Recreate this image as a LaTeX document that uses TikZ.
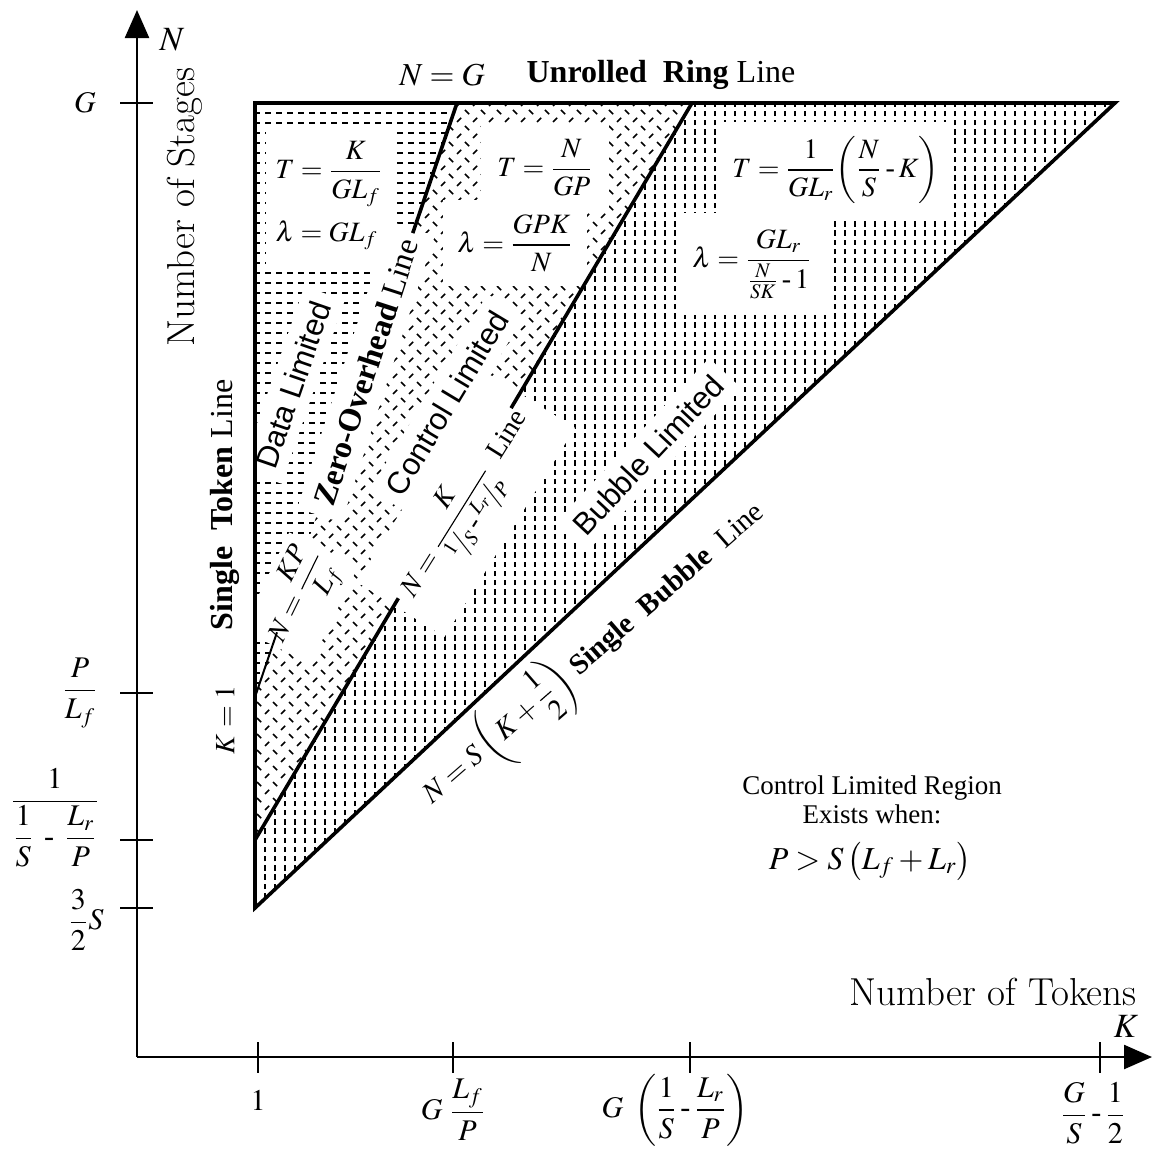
\documentclass[tikz,border=0pt]{standalone}
\usepackage{mathptmx}
\usepackage{fontspec}
\setmainfont{Liberation Serif}
\newfontfamily\hlv{Liberation Sans}
\usepackage{amsmath}
\usetikzlibrary{arrows.meta, patterns, calc}

% fill patterns of the three regions
\pgfdeclarepatternformonly{hdashes}{\pgfqpoint{-1pt}{-1pt}}{\pgfqpoint{6pt}{6pt}}{\pgfqpoint{5.5pt}{5pt}}{%
  \pgfsetlinewidth{0.9pt}%
  \pgfpathmoveto{\pgfqpoint{0.5pt}{2.5pt}}\pgfpathlineto{\pgfqpoint{3.6pt}{2.5pt}}%
  \pgfusepath{stroke}}
\pgfdeclarepatternformonly{vdashes}{\pgfqpoint{-1pt}{-1pt}}{\pgfqpoint{6pt}{6pt}}{\pgfqpoint{5pt}{4.6pt}}{%
  \pgfsetlinewidth{0.9pt}%
  \pgfpathmoveto{\pgfqpoint{2.5pt}{0.7pt}}\pgfpathlineto{\pgfqpoint{2.5pt}{3.4pt}}%
  \pgfusepath{stroke}}
\pgfdeclarepatternformonly{ticks}{\pgfqpoint{-1pt}{-1pt}}{\pgfqpoint{9pt}{9pt}}{\pgfqpoint{8pt}{8pt}}{%
  \pgfsetlinewidth{0.75pt}%
  \pgfpathmoveto{\pgfqpoint{0.5pt}{7pt}}\pgfpathlineto{\pgfqpoint{2.6pt}{4.9pt}}%
  \pgfpathmoveto{\pgfqpoint{4.5pt}{1pt}}\pgfpathlineto{\pgfqpoint{6.6pt}{3.1pt}}%
  \pgfusepath{stroke}}

\newcommand{\cmr}{\fontfamily{lmr}\selectfont}
\newcommand{\hy}{\mathbin{\mbox{-}}}

\begin{document}
\begin{tikzpicture}[x=0.5pt, y=-0.5pt,
    axis/.style={line width=1.2pt},
    edge/.style={line width=1.8pt},
    thin edge/.style={line width=1pt},
    ticklbl/.style={font=\fontsize{15}{17}\selectfont, inner sep=1pt},
    eqn/.style={font=\fontsize{14}{16}\selectfont, fill=white, inner sep=5pt},
    regionlbl/.style={font=\hlv\fontsize{15.5}{17}\selectfont, fill=white, inner sep=5pt},
    linelbl/.style={font=\fontsize{16}{18}\selectfont, inner sep=3pt},
    notelbl/.style={font=\fontsize{13.5}{15}\selectfont, inner sep=1pt}
  ]
\useasboundingbox (0,0) rectangle (1158,1148);

% corners and line ends
\coordinate (o)  at (137,1057);
\coordinate (tl) at (255,103);
\coordinate (tr) at (1115,103);
\coordinate (bl) at (255,908);
\coordinate (zt) at (457,103);
\coordinate (zb) at (255,697);
\coordinate (ct) at (692,103);
\coordinate (cb) at (255,840);

% regions
\fill[pattern=hdashes] (tl) -- (zt) -- (zb) -- cycle;
\fill[pattern=ticks] (zt) -- (ct) -- (cb) -- (zb) -- cycle;
\fill[pattern=vdashes] (ct) -- (tr) -- (bl) -- (cb) -- cycle;

% formulas
\node[eqn, align=left, inner ysep=7pt] (tdata) at (329,196)
  {$T = \dfrac{K}{GL_f}$\\[6pt]$\lambda = GL_f$};
\node[eqn, inner sep=8pt] (tctrl) at (545,168) {$T = \dfrac{N}{GP}$};
\node[eqn, inner sep=7pt] (lctrl) at (515,243) {$\lambda = \dfrac{GPK}{N}$};
\node[eqn, inner ysep=7pt] (tbub) at (836,170) {$T = \dfrac{1}{GL_r}\!\left(\dfrac{N}{S} \hy K\right)$};
\node[eqn, inner sep=8pt] (lbub) at (752,264) {$\lambda = \dfrac{GL_r}{\frac{N}{SK} \hy 1}$};

% region names
\node[regionlbl, rotate=71] (dlim) at (293,385) {Data Limited};
\node[regionlbl, rotate=59] (clim) at (447,403) {Control Limited};
\node[regionlbl, rotate=47] (blim) at (648,455) {Bubble Limited};

% line names
\node[linelbl, fill=white, inner sep=6pt, rotate=72] (zlbl) at (366,372)
  {\textbf{Zero-Overhead} Line};
\node[linelbl, font=\fontsize{14}{16}\selectfont, fill=white, rotate=64] (zeq) at (300,598)
  {$N = \dfrac{KP}{L_f}$};
\node[linelbl, font=\fontsize{14}{16}\selectfont, fill=white, inner xsep=8pt, inner ysep=10pt, rotate=58] (ceq) at (466,505)
  {$N = \dfrac{K}{{}^{1}\!/\!{}_{S} \hy {}^{L_r}\!/\!{}_{P}}$ \ Line};
\node[linelbl, font=\fontsize{14.5}{16}\selectfont, rotate=41] (beq) at (594,654)
  {$N = S\left(K + \dfrac{1}{2}\right)$ \textbf{Single\ \ Bubble} \ Line};
\node[linelbl, rotate=90] (tok) at (225,505) {\textbf{Single\ \ Token} Line};
\node[linelbl, font=\fontsize{14}{16}\selectfont, rotate=90] (kone) at (225,720) {$K = 1$};
\node[linelbl] (ngl) at (442,75) {$N = G$};
\node[linelbl] (ring) at (661,75) {\textbf{Unrolled\ \ Ring} Line};

% triangle and region borders
\draw[edge] (zt) -- (tl) -- (bl) -- (tr) -- cycle;
\draw[thin edge] (zb) -- ($(zb)!0.109!(zt)$);
\draw[edge] ($(zb)!0.781!(zt)$) -- (zt);
\draw[edge] (cb) -- ($(cb)!0.328!(ct)$);
\draw[edge] ($(cb)!0.586!(ct)$) -- (ct);

% axes
\draw[axis, -{Triangle[length=14pt, width=12pt]}] (o) -- (137,10);
\draw[axis, -{Triangle[length=14pt, width=12pt]}] (o) -- (1152,1057);
\node[ticklbl, font=\fontsize{17}{19}\selectfont] (nax) at (172,40) {$N$};
\node[ticklbl, font=\fontsize{17}{19}\selectfont] (kax) at (1126,1026) {$K$};
\node[font=\cmr\fontsize{19.5}{22}\selectfont, rotate=90] (ylab) at (185,207) {Number of Stages};
\node[font=\cmr\fontsize{19.5}{22}\selectfont] (xlab) at (993,992) {Number of Tokens};

% ticks
\foreach \y in {103,693,840,908}
  \draw[axis] (120,\y) -- (153,\y);
\foreach \x in {258,453,690,1100}
  \draw[axis] (\x,1042) -- (\x,1073);

% tick labels
\node[ticklbl] (yg) at (85,103) {$G$};
\node[ticklbl] (ypl) at (80,693) {$\dfrac{P}{L_f}$};
\node[ticklbl] (ycl) at (55,818) {$\dfrac{1}{\dfrac{1}{S} \;\hy\; \dfrac{L_r}{P}}$};
\node[ticklbl] (ys) at (86,920) {$\dfrac{3}{2}S$};
\node[ticklbl] (x1) at (258,1100) {$1$};
\node[ticklbl] (xlf) at (453,1110) {$G\ \dfrac{L_f}{P}$};
\node[ticklbl] (xlr) at (675,1110) {$G\ \left(\dfrac{1}{S} \hy \dfrac{L_r}{P}\right)$};
\node[ticklbl] (xgs) at (1093,1113) {$\dfrac{G}{S}\hy\dfrac{1}{2}$};

% note on the right
\node[notelbl] (note1) at (872,788) {Control Limited Region};
\node[notelbl] (note2) at (872,814) {Exists when:};
\node[font=\fontsize{16}{18}\selectfont] (cond) at (870,861) {$P > S\left(L_f + L_r\right)$};
\end{tikzpicture}
\end{document}
